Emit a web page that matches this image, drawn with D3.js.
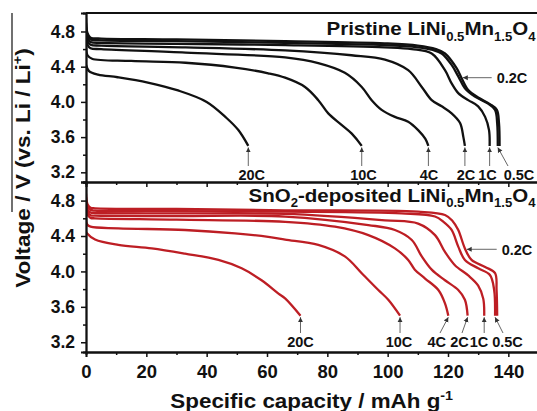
<!DOCTYPE html>
<meta charset="utf-8">
<script src="https://d3js.org/d3.v7.min.js"></script>
<style>
  body { margin: 0; background: #fff; }
  text { font-family: "Liberation Sans", Arial, sans-serif; font-weight: bold; fill: #111; }
</style>
<div id="my_dataviz"></div>
<script>

// C-rates (same order for both panels)
var rates = ["0.2C", "0.5C", "1C", "2C", "4C", "10C", "20C"];

// Pristine LiNi0.5Mn1.5O4 discharge curves: [capacity (mAh/g), voltage (V)]
var pristine02 = [[0,4.95],[0.5,4.78],[1.5,4.73],[5,4.72],[30,4.71],[66,4.69],[99,4.665],[110,4.64],[116,4.60],[119,4.55],[122.9,4.38],[124.5,4.27],[126.7,4.135],[130,4.05],[133.9,3.975],[136.2,3.91],[136.9,3.76],[137.1,3.5]];
var pristine05 = [[0,4.9],[0.5,4.76],[1.5,4.71],[5,4.70],[30,4.69],[66,4.67],[99,4.645],[110,4.62],[115,4.59],[117.9,4.55],[121.2,4.42],[123.4,4.29],[125.6,4.155],[128.9,4.06],[133.3,3.98],[135.6,3.91],[136.3,3.76],[136.5,3.5]];
var pristine1  = [[0,4.85],[0.5,4.72],[1.5,4.68],[5,4.67],[30,4.66],[66,4.645],[99,4.62],[108,4.60],[114.6,4.55],[119,4.36],[121.2,4.21],[123.4,4.10],[126.7,4.02],[130,3.95],[132.3,3.83],[133.6,3.68],[133.8,3.5]];
var pristine2  = [[0,4.8],[0.5,4.69],[1.5,4.65],[5,4.64],[33,4.62],[66,4.585],[88,4.53],[99.1,4.48],[106.8,4.36],[111.3,4.17],[114.6,4.02],[117.9,3.95],[121.2,3.87],[124,3.76],[125.1,3.6],[125.6,3.5]];
var pristine4  = [[0,4.74],[0.5,4.65],[1.5,4.61],[5,4.60],[33,4.56],[66,4.505],[77,4.44],[85.8,4.33],[91.4,4.17],[94.7,4.02],[98,3.91],[102.4,3.83],[106.8,3.775],[110.1,3.68],[112.5,3.58],[113.5,3.5]];
var pristine10 = [[0,4.62],[0.5,4.53],[2,4.49],[15,4.465],[33,4.445],[49.4,4.39],[60.4,4.325],[66,4.275],[72.6,4.17],[77,4.02],[80.3,3.87],[84.7,3.74],[88.1,3.64],[91.4,3.5]];
var pristine20 = [[0,4.42],[1,4.35],[4,4.31],[10.5,4.28],[20.5,4.22],[30.5,4.13],[40,4.0],[46.5,3.82],[50.5,3.68],[53.8,3.5]];

// SnO2-deposited LiNi0.5Mn1.5O4 discharge curves
var coated02 = [[0,4.88],[0.5,4.76],[1.5,4.72],[3,4.713],[30,4.705],[66,4.69],[110.1,4.675],[119,4.637],[121.5,4.57],[123.4,4.468],[125.6,4.26],[127.8,4.13],[132.3,4.05],[135.6,3.98],[136.1,3.79],[136.3,3.5]];
var coated05 = [[0,4.84],[0.5,4.73],[1.5,4.695],[3,4.686],[30,4.68],[66,4.675],[104.6,4.656],[115.7,4.62],[118.5,4.56],[121.2,4.468],[123.4,4.28],[125.6,4.13],[130,4.035],[133.9,3.96],[135.3,3.79],[135.6,3.5]];
var coated1  = [[0,4.8],[0.5,4.7],[1.5,4.665],[3,4.66],[30,4.655],[66,4.65],[99.1,4.577],[110.1,4.54],[115.7,4.41],[119,4.22],[122.3,4.07],[126.7,3.955],[130,3.84],[131.7,3.69],[132,3.5]];
var coated2  = [[0,4.76],[0.5,4.67],[1.5,4.635],[3,4.63],[30,4.625],[66,4.62],[93.6,4.524],[102.4,4.468],[108,4.355],[111.3,4.17],[114.6,4.02],[119,3.9],[123.4,3.79],[125.6,3.68],[126.5,3.5]];
var coated4  = [[0,4.72],[0.5,4.64],[1.5,4.605],[3,4.60],[30,4.585],[66,4.56],[82.5,4.505],[93.6,4.41],[102.4,4.26],[106.8,4.13],[109,4.02],[112.4,3.92],[116.8,3.79],[119,3.64],[120.1,3.5]];
var coated10 = [[0,4.6],[0.4,4.53],[1.5,4.505],[10.7,4.487],[32.8,4.468],[49.4,4.43],[60.4,4.39],[66,4.36],[77,4.30],[85.8,4.17],[91.4,3.98],[96.9,3.79],[100.2,3.68],[104.1,3.5]];
var coated20 = [[0,4.45],[0.3,4.43],[3,4.36],[10.7,4.30],[21.8,4.26],[32.8,4.20],[43.9,4.13],[51.6,4.035],[58.2,3.90],[63.8,3.75],[66,3.695],[71.1,3.5]];

// axis ticks
var xTicks = [0, 20, 40, 60, 80, 100, 120, 140];
var xMinor = [10, 30, 50, 70, 90, 110, 130];
var yTicks = [3.2, 3.6, 4.0, 4.4, 4.8];
var yMinor = [3.4, 3.8, 4.2, 4.6];

var pristine = [pristine02, pristine05, pristine1, pristine2, pristine4, pristine10, pristine20];
var coated = [coated02, coated05, coated1, coated2, coated4, coated10, coated20];

var W = 537, H = 411;
var svg = d3.select("#my_dataviz")
  .append("svg")
    .attr("width", W)
    .attr("height", H);

var defs = svg.append("defs");
defs.append("marker")
    .attr("id", "head")
    .attr("viewBox", "0 0 10 10")
    .attr("refX", 10).attr("refY", 5)
    .attr("markerWidth", 5).attr("markerHeight", 6)
    .attr("markerUnits", "userSpaceOnUse")
    .attr("orient", "auto")
  .append("path")
    .attr("d", "M0,0L10,5L0,10z")
    .attr("fill", "#333");

var x = d3.scaleLinear().domain([0, 150]).range([86, 538.5]);
var yTop = d3.scaleLinear().domain([3.09, 5.01]).range([182, 13]);
var yBot = d3.scaleLinear().domain([3.09, 5.01]).range([352, 182]);

function styleAxis(g) {
  g.select(".domain").attr("stroke", "#111").attr("stroke-width", 1.8);
  g.selectAll(".tick line").attr("stroke", "#111").attr("stroke-width", 1.5);
  g.selectAll("text").attr("fill", "#111");
}

function drawPanel(y, curves, color, name, showX) {
  var top = y.range()[1], bottom = y.range()[0];
  var g = svg.append("g");

  defs.append("clipPath").attr("id", "clip" + name)
    .append("rect").attr("x", x(0)).attr("y", top)
    .attr("width", x(150) - x(0)).attr("height", bottom - top);

  var line = d3.line()
    .x(function(d) { return x(d[0]); })
    .y(function(d) { return y(d[1]); })
    .curve(d3.curveCatmullRom.alpha(0.5));

  g.append("g").attr("clip-path", "url(#clip" + name + ")")
    .selectAll("path")
    .data(curves)
    .enter()
    .append("path")
      .attr("d", line)
      .attr("fill", "none")
      .attr("stroke", color)
      .attr("stroke-width", 2.3)
      .attr("stroke-linejoin", "round");

  // y axis
  g.append("g")
    .attr("transform", "translate(" + x(0) + ",0)")
    .call(d3.axisLeft(y).tickValues(yMinor).tickSize(3).tickFormat(""))
    .call(styleAxis);
  g.append("g")
    .attr("transform", "translate(" + x(0) + ",0)")
    .call(d3.axisLeft(y).tickValues(yTicks).tickSize(5).tickPadding(6).tickFormat(d3.format(".1f")))
    .call(styleAxis)
    .selectAll("text").style("font-size", "17.5px");

  // x axis
  g.append("g")
    .attr("transform", "translate(0," + bottom + ")")
    .call(d3.axisBottom(x).tickValues(xMinor).tickSize(3).tickFormat(""))
    .call(styleAxis);
  var xa = g.append("g")
    .attr("transform", "translate(0," + bottom + ")")
    .call(d3.axisBottom(x).tickValues(xTicks).tickSize(5).tickPadding(8)
      .tickFormat(showX ? d3.format("d") : ""))
    .call(styleAxis);
  xa.selectAll("text").style("font-size", "18.5px");

  return g;
}

var gTop = drawPanel(yTop, pristine, "#111", "top", false);
var gBot = drawPanel(yBot, coated, "#bd1e24", "bot", true);

// top border of upper panel
svg.append("line")
  .attr("x1", x(0)).attr("x2", W)
  .attr("y1", yTop.range()[1]).attr("y2", yTop.range()[1])
  .attr("stroke", "#111").attr("stroke-width", 1.8);

// stray frame line left of the y title
svg.append("line")
  .attr("x1", 12).attr("x2", 12).attr("y1", 13).attr("y2", 212)
  .attr("stroke", "#111").attr("stroke-width", 1.2);

// rate labels with arrows to the end of each curve
function annotate(g, y, curves, notes, baseY, arrowY) {
  notes.forEach(function(n) {
    var end = curves[n.i][curves[n.i].length - 1];
    var tx = x(end[0]), ty = y(end[1]) + 1.5;
    var bx = n.bx == null ? tx : n.bx;
    g.append("line")
      .attr("x1", bx).attr("y1", arrowY)
      .attr("x2", tx).attr("y2", ty)
      .attr("stroke", "#555").attr("stroke-width", 0.9)
      .attr("marker-end", "url(#head)");
    g.append("text")
      .attr("x", n.lx).attr("y", baseY)
      .attr("text-anchor", "middle")
      .style("font-size", "14.5px")
      .text(rates[n.i]);
  });
}

function pointer(g, y, tip, fromX, label) {
  g.append("line")
    .attr("x1", fromX).attr("y1", y(tip[1]))
    .attr("x2", x(tip[0])).attr("y2", y(tip[1]))
    .attr("stroke", "#555").attr("stroke-width", 0.9)
    .attr("marker-end", "url(#head)");
  g.append("text")
    .attr("x", fromX + 5).attr("y", y(tip[1]) + 5.5)
    .style("font-size", "14.5px")
    .text(label);
}

annotate(gTop, yTop, pristine, [
  {i: 6, lx: 251.7}, {i: 5, lx: 363.5}, {i: 4, lx: 429}, {i: 3, lx: 466},
  {i: 2, lx: 487.5}, {i: 1, lx: 519, bx: 508}
], 180, 166);
pointer(gTop, yTop, [124.9, 4.275], 491.7, rates[0]);

annotate(gBot, yBot, coated, [
  {i: 6, lx: 300.5}, {i: 5, lx: 399}, {i: 4, lx: 436.7, bx: 440}, {i: 3, lx: 459.5, bx: 462},
  {i: 2, lx: 479}, {i: 1, lx: 507.5, bx: 503}
], 346.5, 333);
pointer(gBot, yBot, [126.2, 4.25], 496.7, rates[0]);

// text with sub/superscripts: parts = [[string, shift]]  shift: 0 normal, 1 sub, -1 sup
function richText(tx, ty, sx, rot, anchor, size, parts) {
  var t = svg.append("g")
    .attr("transform", "translate(" + tx + "," + ty + ") rotate(" + rot + ") scale(" + sx + ",1)")
    .append("text")
    .attr("text-anchor", anchor)
    .style("font-size", size + "px");
  var prev = 0;
  parts.forEach(function(p) {
    var off = p[1] * (p[1] > 0 ? size * 0.3 : size * 0.4);
    t.append("tspan")
      .attr("dy", off - prev)
      .style("font-size", (p[1] === 0 ? size : size * 0.64) + "px")
      .text(p[0]);
    prev = off;
  });
}

richText(535.5, 35, 1.08, 0, "end", 19,
  [["Pristine LiNi", 0], ["0.5", 1], ["Mn", 0], ["1.5", 1], ["O", 0], ["4", 1]]);
richText(535.5, 201.5, 1.08, 0, "end", 19,
  [["SnO", 0], ["2", 1], ["-deposited LiNi", 0], ["0.5", 1], ["Mn", 0], ["1.5", 1], ["O", 0], ["4", 1]]);
richText(30, 168, 1.1, -90, "middle", 20.5,
  [["Voltage / V (vs. Li / Li", 0], ["+", -1], [")", 0]]);
richText(311.7, 408, 1.12, 0, "middle", 20,
  [["Specific capacity / mAh g", 0], ["-1", -1]]);

</script>
